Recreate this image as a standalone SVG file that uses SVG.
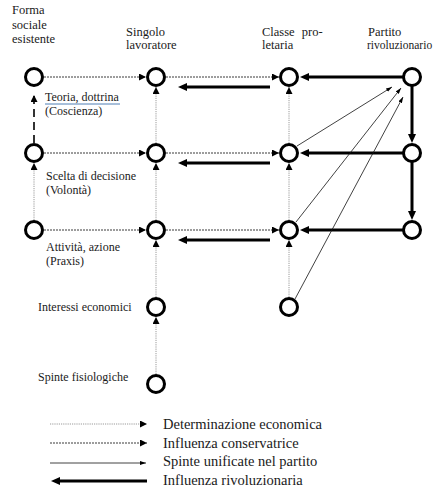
<svg xmlns="http://www.w3.org/2000/svg" width="437" height="490" viewBox="0 0 437 490">
<style>
.lab{font-size:12.5px;font-family:'Liberation Serif','Times New Roman',serif;fill:#1a1a1a}
.row{font-size:12px}
.leg{font-size:14.5px;font-family:'Liberation Serif','Times New Roman',serif;fill:#1a1a1a}
.node{fill:#fff;stroke:#000;stroke-width:3}
.det{stroke:#9a9a9a;stroke-width:1;stroke-dasharray:1.2 1;fill:none}
.con{stroke:#3a3a3a;stroke-width:1;stroke-dasharray:2 1;fill:none}
.spi{stroke:#111;stroke-width:0.8;fill:none}
.riv{stroke:#000;stroke-width:3;fill:none}
.lng{stroke:#000;stroke-width:1.6;stroke-dasharray:8 5;fill:none}
</style>
<defs>
<marker id="mDot" viewBox="0 0 7 7" refX="7" refY="3.5" markerWidth="7" markerHeight="7" markerUnits="userSpaceOnUse" orient="auto"><path d="M0,0 L7,3.5 L0,7 z" fill="#000"/></marker>
<marker id="mThin" viewBox="0 0 6 4" refX="6" refY="2" markerWidth="6" markerHeight="4" markerUnits="userSpaceOnUse" orient="auto"><path d="M0,0 L6,2 L0,4 z" fill="#000"/></marker>
<marker id="mThick" viewBox="0 0 9 8" refX="1" refY="4" markerWidth="9" markerHeight="8" markerUnits="userSpaceOnUse" orient="auto"><path d="M0,0 L9,4 L0,8 z" fill="#000"/></marker>
</defs>

<g id="headers">
<text class="lab" x="12" y="14">Forma</text>
<text class="lab" x="12" y="29">sociale</text>
<text class="lab" x="12" y="43">esistente</text>
<text class="lab" x="126" y="36">Singolo</text>
<text class="lab" x="126" y="49">lavoratore</text>
<text class="lab" x="262" y="36" word-spacing="4">Classe pro-</text>
<text class="lab" x="262" y="49">letaria</text>
<text class="lab" x="368" y="36">Partito</text>
<text class="lab" x="367" y="49" style="font-size:11.5px">rivoluzionario</text>
</g>

<g id="connectors">
<line class="con" x1="44" y1="77" x2="146" y2="77" marker-end="url(#mDot)"/>
<line class="con" x1="166" y1="77" x2="279" y2="77" marker-end="url(#mDot)"/>
<line class="con" x1="44" y1="153" x2="146" y2="153" marker-end="url(#mDot)"/>
<line class="con" x1="166" y1="153" x2="279" y2="153" marker-end="url(#mDot)"/>
<line class="con" x1="44" y1="230" x2="146" y2="230" marker-end="url(#mDot)"/>
<line class="con" x1="166" y1="230" x2="279" y2="230" marker-end="url(#mDot)"/>
<line class="det" x1="34" y1="220" x2="34" y2="163" marker-end="url(#mDot)"/>
<line class="lng" x1="34" y1="143" x2="34" y2="95" marker-end="url(#mDot)"/>
<line class="det" x1="156" y1="374" x2="156" y2="317" marker-end="url(#mDot)"/>
<line class="det" x1="156" y1="297" x2="156" y2="240" marker-end="url(#mDot)"/>
<line class="det" x1="156" y1="220" x2="156" y2="163" marker-end="url(#mDot)"/>
<line class="det" x1="156" y1="143" x2="156" y2="87" marker-end="url(#mDot)"/>
<line class="det" x1="289" y1="297" x2="289" y2="240" marker-end="url(#mDot)"/>
<line class="det" x1="289" y1="220" x2="289" y2="163" marker-end="url(#mDot)"/>
<line class="det" x1="289" y1="143" x2="289" y2="87" marker-end="url(#mDot)"/>
<line class="riv" x1="270" y1="87" x2="186" y2="87" marker-end="url(#mThick)"/>
<line class="riv" x1="270" y1="163" x2="186" y2="163" marker-end="url(#mThick)"/>
<line class="riv" x1="270" y1="240" x2="186" y2="240" marker-end="url(#mThick)"/>
<line class="riv" x1="403" y1="77" x2="308" y2="77" marker-end="url(#mThick)"/>
<line class="riv" x1="403" y1="153" x2="308" y2="153" marker-end="url(#mThick)"/>
<line class="riv" x1="403" y1="230" x2="308" y2="230" marker-end="url(#mThick)"/>
<line class="riv" x1="412" y1="86" x2="412" y2="135" marker-end="url(#mThick)"/>
<line class="riv" x1="412" y1="162" x2="412" y2="212" marker-end="url(#mThick)"/>
<line class="spi" x1="297" y1="146" x2="392" y2="87" marker-end="url(#mThin)"/>
<line class="spi" x1="296" y1="222" x2="401" y2="88" marker-end="url(#mThin)"/>
<line class="spi" x1="295" y1="299" x2="403" y2="97" marker-end="url(#mThin)"/>
</g>

<g id="n-forma-teoria"><circle class="node" cx="34" cy="77" r="8.5"/></g>
<g id="n-forma-scelta"><circle class="node" cx="34" cy="153" r="8.5"/></g>
<g id="n-forma-attivita"><circle class="node" cx="34" cy="230" r="8.5"/></g>
<g id="n-singolo-teoria"><circle class="node" cx="156" cy="77" r="8.5"/></g>
<g id="n-singolo-scelta"><circle class="node" cx="156" cy="153" r="8.5"/></g>
<g id="n-singolo-attivita"><circle class="node" cx="156" cy="230" r="8.5"/></g>
<g id="n-singolo-interessi"><circle class="node" cx="156" cy="307" r="8.5"/></g>
<g id="n-singolo-spinte"><circle class="node" cx="156" cy="384" r="8.5"/></g>
<g id="n-classe-teoria"><circle class="node" cx="289" cy="77" r="8.5"/></g>
<g id="n-classe-scelta"><circle class="node" cx="289" cy="153" r="8.5"/></g>
<g id="n-classe-attivita"><circle class="node" cx="289" cy="230" r="8.5"/></g>
<g id="n-classe-interessi"><circle class="node" cx="289" cy="307" r="8.5"/></g>
<g id="n-partito-teoria"><circle class="node" cx="412" cy="77" r="8.5"/></g>
<g id="n-partito-scelta"><circle class="node" cx="412" cy="153" r="8.5"/></g>
<g id="n-partito-attivita"><circle class="node" cx="412" cy="230" r="8.5"/></g>

<g id="row-labels">
<text class="lab row" x="45" y="101">Teoria, dottrina</text>
<line x1="45" y1="104" x2="120" y2="104" stroke="#4f7fb5" stroke-width="1"/>
<text class="lab row" x="45" y="115">(Coscienza)</text>
<text class="lab row" x="46" y="180">Scelta di decisione</text>
<text class="lab row" x="46" y="194">(Volontà)</text>
<text class="lab row" x="46" y="251">Attività, azione</text>
<text class="lab row" x="46" y="265">(Praxis)</text>
<text class="lab row" x="38" y="311">Interessi economici</text>
<text class="lab row" x="38" y="381">Spinte fisiologiche</text>
</g>

<g id="legend">
<line class="det" x1="50" y1="424" x2="147" y2="424" marker-end="url(#mDot)"/>
<line class="con" x1="50" y1="443" x2="147" y2="443" marker-end="url(#mDot)"/>
<line class="spi" x1="50" y1="463" x2="146" y2="463" marker-end="url(#mThin)"/>
<line class="riv" x1="147" y1="481" x2="59" y2="481" marker-end="url(#mThick)"/>
<text class="leg" x="163" y="429">Determinazione economica</text>
<text class="leg" x="163" y="448">Influenza conservatrice</text>
<text class="leg" x="163" y="466">Spinte unificate nel partito</text>
<text class="leg" x="163" y="485">Influenza rivoluzionaria</text>
</g>
</svg>
